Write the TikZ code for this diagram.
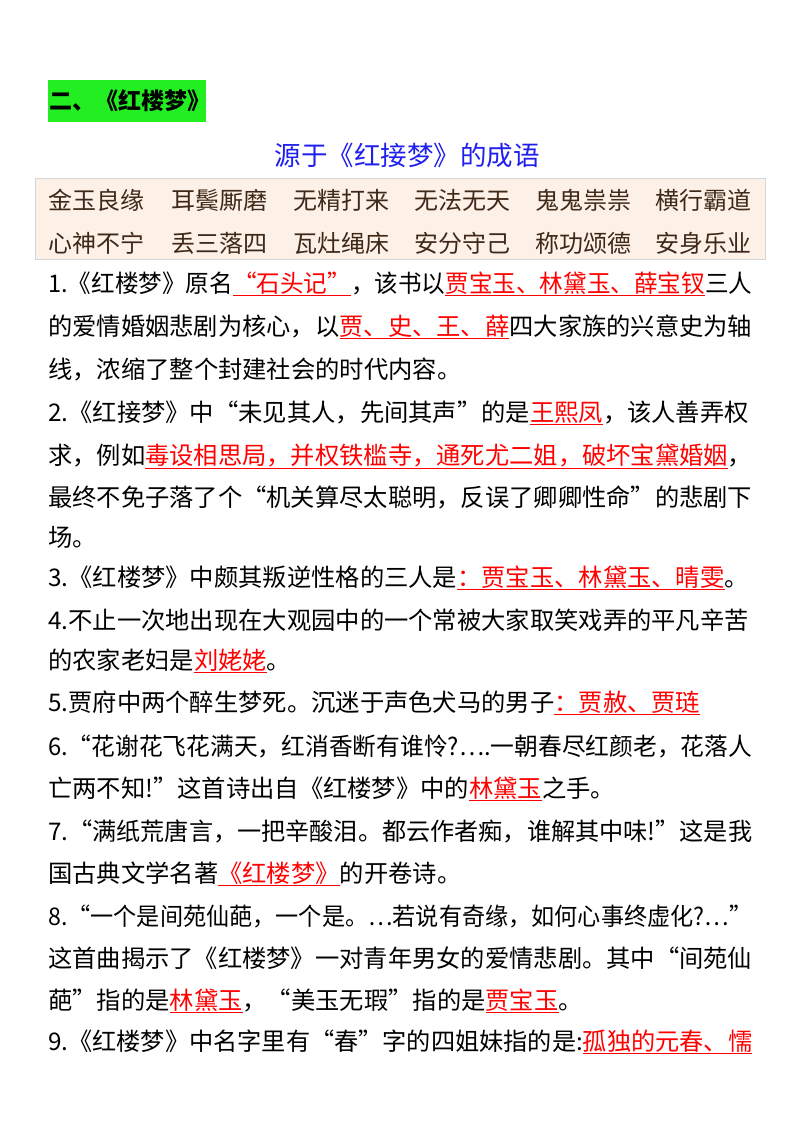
\documentclass[tikz,border=0pt]{standalone}
\usepackage{fontspec}
\usepackage{graphicx}
\newfontfamily\cjk{Noto Sans CJK SC}
\XeTeXlinebreaklocale "zh"
\XeTeXlinebreakskip=0pt plus 1pt
\definecolor{titlegreen}{RGB}{34,238,34}
\definecolor{peach}{RGB}{253,240,231}
\definecolor{boxgray}{RGB}{214,214,214}
\definecolor{brownink}{RGB}{62,40,24}
\definecolor{blueink}{RGB}{32,32,238}
\definecolor{redink}{RGB}{255,0,0}
\newcommand\redu[1]{{\color{redink}$\underline{\hbox{#1}}$}}
\newsavebox\linebox
\newcommand\fullline[1]{\sbox\linebox{#1}%
  \ifdim\wd\linebox>704pt \resizebox{704pt}{\height}{\usebox\linebox}%
  \else\makebox[704pt][s]{#1}\fi}
\tikzset{
  bodyline/.style={anchor=base west, inner sep=0pt, text=black,
    font=\cjk\fontsize{24.3}{29}\selectfont},
  idiom/.style={anchor=base west, inner sep=0pt, text=brownink,
    font=\cjk\fontsize{24}{29}\selectfont},
}
\begin{document}
\begin{tikzpicture}[x=1pt,y=-1pt]
\useasboundingbox (0,0) rectangle (800,1132);
\fill[white] (0,0) rectangle (800,1132);
% green heading
\node[fill=titlegreen, minimum width=158pt, minimum height=42pt, inner sep=0pt, anchor=north west] (head) at (48,80) {};
\node[font=\cjk\bfseries\fontsize{23}{27}\selectfont, anchor=west, inner sep=0pt] (headtxt) at (49,101) {二、《红楼梦》};
% blue title
\node[font=\cjk\fontsize{26.5}{30}\selectfont, text=blueink, inner sep=0pt] (title) at (407,155) {源于《红接梦》的成语};
% idiom box
\node[fill=peach, draw=boxgray, line width=1.2pt, minimum width=730pt, minimum height=81pt, inner sep=0pt, anchor=north west] (ibox) at (35,178) {};
\node[idiom] (i1) at (48,209) {金玉良缘};
\node[idiom] (i2) at (171,209) {耳鬓厮磨};
\node[idiom] (i3) at (293,209) {无精打来};
\node[idiom] (i4) at (414,209) {无法无天};
\node[idiom] (i5) at (535,209) {鬼鬼祟祟};
\node[idiom] (i6) at (655,209) {横行霸道};
\node[idiom] (i7) at (48,252) {心神不宁};
\node[idiom] (i8) at (171,252) {丢三落四};
\node[idiom] (i9) at (293,252) {瓦灶绳床};
\node[idiom] (i10) at (414,252) {安分守己};
\node[idiom] (i11) at (535,252) {称功颂德};
\node[idiom] (i12) at (655,252) {安身乐业};
% body lines
\node[bodyline] (l1) at (48,292) {\fullline{1.《红楼梦》原名\redu{“石头记”}，该书以\redu{贾宝玉、林黛玉、薛宝钗}三人}};
\node[bodyline] (l2) at (48,335) {\fullline{的爱情婚姻悲剧为核心，以\redu{贾、史、王、薛}四大家族的兴意史为轴}};
\node[bodyline] (l3) at (48,378) {线，浓缩了整个封建社会的时代内容。};
\node[bodyline] (l4) at (48,421) {\fullline{2.《红接梦》中“未见其人，先间其声”的是\redu{王熙凤}，该人善弄权}};
\node[bodyline] (l5) at (48,464) {\fullline{求，例如\redu{毒设相思局，并权铁槛寺，通死尤二姐，破坏宝黛婚姻}，}};
\node[bodyline] (l6) at (48,506) {\fullline{最终不免子落了个“机关算尽太聪明，反误了卿卿性命”的悲剧下}};
\node[bodyline] (l7) at (48,546) {场。};
\node[bodyline] (l8) at (48,586) {3.《红楼梦》中颇其叛逆性格的三人是\redu{：贾宝玉、林黛玉、晴雯}。};
\node[bodyline] (l9) at (48,629) {\fullline{4.不止一次地出现在大观园中的一个常被大家取笑戏弄的平凡辛苦}};
\node[bodyline] (l10) at (48,669) {的农家老妇是\redu{刘姥姥}。};
\node[bodyline] (l11) at (48,711) {5.贾府中两个醉生梦死。沉迷于声色犬马的男子\redu{：贾赦、贾琏}};
\node[bodyline] (l12) at (48,755) {\fullline{6.“花谢花飞花满天，红消香断有谁怜?….一朝春尽红颜老，花落人}};
\node[bodyline] (l13) at (48,797) {亡两不知!”这首诗出自《红楼梦》中的\redu{林黛玉}之手。};
\node[bodyline] (l14) at (48,840) {\fullline{7.“满纸荒唐言，一把辛酸泪。都云作者痴，谁解其中味!”这是我}};
\node[bodyline] (l15) at (48,882) {国古典文学名著\redu{《红楼梦》}的开卷诗。};
\node[bodyline] (l16) at (48,925) {\fullline{8.“一个是间苑仙葩，一个是。…若说有奇缘，如何心事终虚化?…”}};
\node[bodyline] (l17) at (48,967) {\fullline{这首曲揭示了《红楼梦》一对青年男女的爱情悲剧。其中“间苑仙}};
\node[bodyline] (l18) at (48,1009) {葩”指的是\redu{林黛玉}，“美玉无瑕”指的是\redu{贾宝玉}。};
\node[bodyline] (l19) at (48,1050) {\fullline{9.《红楼梦》中名字里有“春”字的四姐妹指的是:\redu{孤独的元春、懦}}};
\end{tikzpicture}
\end{document}
